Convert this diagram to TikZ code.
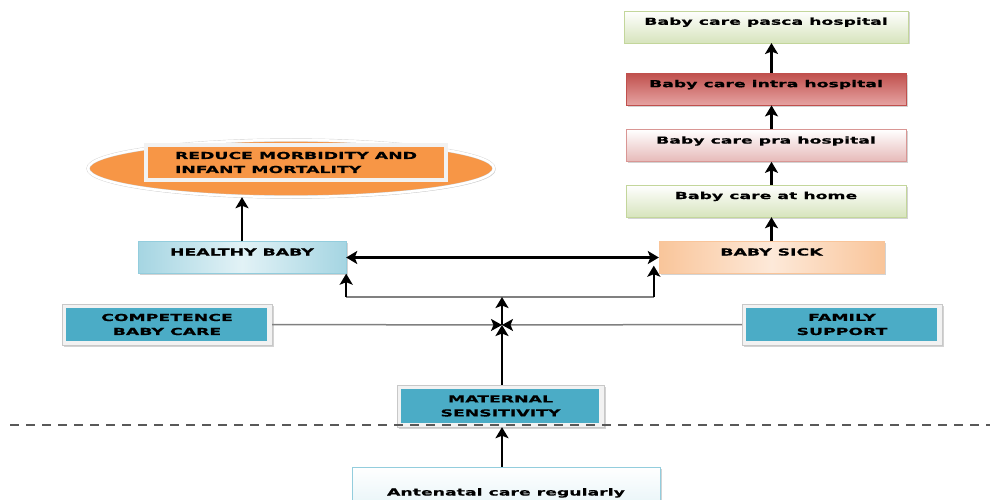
\documentclass[tikz,border=0pt]{standalone}
\usepackage{fontspec}
\newfontfamily\boxfont[FakeStretch=1.8, FakeBold=0.5]{DejaVu Sans}
\usetikzlibrary{positioning, arrows.meta, shadows, shapes.geometric}
\definecolor{tealfill}{HTML}{4BACC6}
\definecolor{framegray}{HTML}{F2F2F2}
\definecolor{edgegray}{HTML}{C8C8C8}
\definecolor{linegray}{HTML}{808080}
\definecolor{orangefill}{HTML}{F79646}
\definecolor{greenbot}{HTML}{D7E4BD}
\definecolor{greenedge}{HTML}{C3D69B}
\definecolor{redtop}{HTML}{C0504D}
\definecolor{redbot}{HTML}{E6A3A2}
\definecolor{pinkbot}{HTML}{E6B9B8}
\definecolor{pinkedge}{HTML}{D99694}
\definecolor{peachside}{HTML}{F9C59A}
\definecolor{peachmid}{HTML}{FDE9D9}
\definecolor{blueside}{HTML}{A5D5E2}
\definecolor{bluemid}{HTML}{E2F2F6}
\definecolor{blueedge}{HTML}{93CDDD}
\tikzset{
    every node/.style={font=\boxfont\bfseries\fontsize{9.6}{14}\selectfont},
    shade/.style={drop shadow={shadow xshift=1.5pt, shadow yshift=-1.5pt, opacity=.35}},
    onebox/.style={rectangle, shade, inner ysep=0pt, inner xsep=2pt,
        text height=14pt, text depth=18pt},
    tealbox/.style={rectangle, shade, fill=framegray, draw=edgegray, line width=.4pt,
        align=center, inner sep=0pt,
        path picture={\fill[tealfill] ([shift={(4pt,-4pt)}]path picture bounding box.north west)
            rectangle ([shift={(-5pt,4pt)}]path picture bounding box.south east);}},
    link/.style={line width=2.2pt, -{Stealth[length=11pt,width=13pt,inset=2.5pt]}},
    bothlink/.style={line width=2.2pt, {Stealth[length=11pt,width=13pt,inset=2.5pt]}-{Stealth[length=11pt,width=13pt,inset=2.5pt]}},
    graylink/.style={draw=linegray, line width=1.5pt, -{Stealth[length=11pt,width=12pt,inset=2.5pt,color=black]}},
}

\begin{document}
\begin{tikzpicture}[x=1pt, y=-1pt]
    \useasboundingbox (0,0) rectangle (996,500);

    % right column
    \node[onebox, minimum width=280pt, top color=white, bottom color=greenbot, draw=greenedge] (home) at (766,201) {Baby care at home};
    \node[onebox, minimum width=280pt, top color=white, bottom color=pinkbot, draw=pinkedge, above=23pt of home] (pra) {Baby care pra hospital};
    \node[onebox, minimum width=280pt, top color=redtop, bottom color=redbot, draw=redtop, above=24pt of pra] (intra) {Baby care intra hospital};
    \node[onebox, minimum width=284pt, top color=white, bottom color=greenbot, draw=greenedge, above=30pt of intra] (pasca) {Baby care pasca hospital};

    \node[onebox, minimum width=225pt, left color=peachside, right color=peachside, middle color=peachmid, draw=peachside] (sick) at (771.5,257.5) {BABY SICK};
    \node[onebox, minimum width=208pt, left color=blueside, right color=blueside, middle color=bluemid, draw=blueedge] (healthy) at (242,257.5) {HEALTHY BABY};

    % goal
    \node[ellipse, shade, minimum width=406pt, minimum height=57pt, fill=orangefill,
        draw=gray!35, double=white, double distance=2.5pt] (goal) at (291,168.5) {};
    \node[rectangle, fill=orangefill, draw=framegray, line width=3.5pt, minimum width=300pt,
        minimum height=35pt, align=left, inner sep=0pt] (goalbox) at (296,162.5) {REDUCE MORBIDITY AND\\INFANT MORTALITY};

    % factors
    \node[tealbox, minimum width=210pt, minimum height=41pt] (competence) at (167,324.5) {COMPETENCE\\BABY CARE};
    \node[tealbox, minimum width=200pt, minimum height=41pt] (family) at (842,324.5) {FAMILY\\SUPPORT};
    \node[tealbox, minimum width=207pt, minimum height=42pt] (maternal) at (500.5,406) {MATERNAL\\SENSITIVITY};
    \node[onebox, minimum width=308pt, text height=28.5pt, text depth=21.5pt, top color=white,
        bottom color=bluemid, draw=blueedge] (antenatal) at (506,492) {Antenatal care regularly};

    \coordinate (hub) at (502,325);
    \coordinate (fork) at (502,297);

    % connectors
    \draw[link] (home.north -| sick.north) -- (pra.south -| sick.north);
    \draw[link] (pra.north -| sick.north) -- (intra.south -| sick.north);
    \draw[link] (intra.north -| sick.north) -- (pasca.south -| sick.north);
    \draw[link] (sick.north) -- (sick.north |- home.south);
    \draw[link] (healthy.north) -- (healthy.north |- goal.south);
    \draw[bothlink] (healthy.east) -- (sick.west);

    \draw[draw=linegray, line width=1.5pt] (fork -| healthy.east) -- ([xshift=-5pt]fork -| sick.west);
    \draw[link] (fork -| healthy.east) -- (healthy.south east);
    \draw[link] ([xshift=-5pt]fork -| sick.west) -- ([xshift=-5pt, yshift=8pt]sick.south west);
    \draw[link] (hub) -- (fork);

    \draw[graylink] (competence.east) -- (hub);
    \draw[graylink] (family.west) -- (hub);
    \draw[link] (maternal.north -| hub) -- (hub);
    \draw[link] (antenatal.north -| hub) -- (maternal.south -| hub);

    % border line
    \draw[dashed, dash pattern=on 9pt off 7pt, draw=gray!70!black, line width=1.2pt] (10,425) -- (990,425);
\end{tikzpicture}
\end{document}
